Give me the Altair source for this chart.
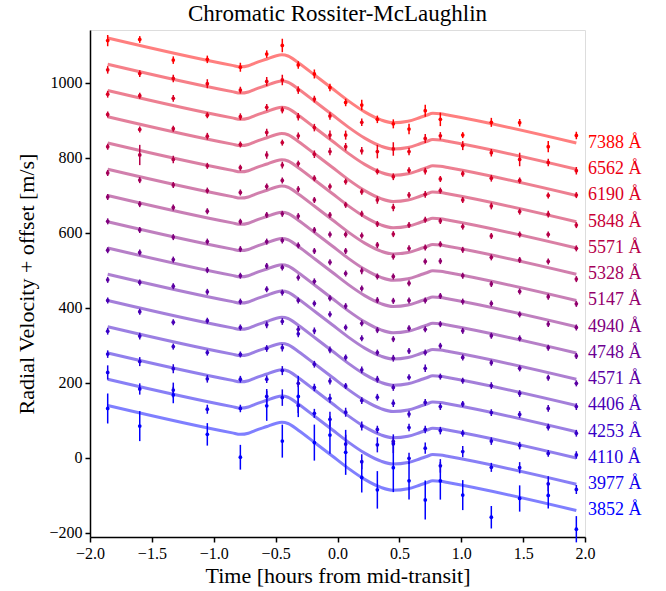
import altair as alt
import pandas as pd

# observation times (hours from mid-transit)
times = [-1.857, -1.598, -1.327, -1.052, -0.785, -0.572, -0.446, -0.317, -0.187, -0.061, 0.066,
         0.196, 0.322, 0.451, 0.578, 0.709, 0.831, 1.012, 1.243, 1.472, 1.703, 1.930]

wavelengths = [3852, 3977, 4110, 4253, 4406, 4571, 4748, 4940, 5147, 5328, 5571, 5848, 6190, 6562, 7388]
colors = ["#0000ff", "#1200ed", "#2400db", "#3700c8", "#4900b6", "#5b00a4", "#6d0092", "#80007f",
          "#92006d", "#a4005b", "#b60049", "#c80037", "#db0024", "#ed0012", "#ff0000"]
offsets = [0, 70, 140, 210, 280, 350, 420, 490, 560, 630, 700, 770, 840, 910, 980]

# model curve (no offset)
model_t = [-1.857, -0.85, -0.785, -0.72, -0.667, -0.57, -0.50, -0.45, -0.40, -0.317, -0.18, -0.045,
           0.085, 0.22, 0.356, 0.45, 0.57, 0.667, 0.72, 0.77, 0.83, 0.90, 1.93]
model_rv = [140, 67, 63, 66, 73, 84, 92, 95, 92, 74, 40, 6,
            -27, -57, -79, -86, -82, -72, -66, -61, -62, -66, -140]

rv_3852 = [132, 85, 168, 63, 2, 139, 45, 164, 41, 61, 15, -52, -85, -26, -61, -112, -61, -99, -158, -108, -100, -190]
rv_3977 = [228, 184, 181, 130, 132, 164, 161, 140, 119, 103, 37, -10, 35, 38, -1, 26, -21, 17, -25, -26, -69, -84]
rv_4110 = [277, 257, 238, 211, 210, 210, 233, 199, 188, 159, 122, 85, 76, 44, 81, 76, 73, 66, 45, 33, 12, 8]
rv_4253 = [338, 325, 297, 281, 276, 292, 294, 331, 250, 205, 192, 153, 162, 146, 117, 148, 137, 144, 121, 116, 82, 66]
rv_4406 = [420, 390, 362, 366, 348, 355, 364, 343, 339, 288, 268, 235, 210, 188, 215, 239, 217, 206, 193, 172, 132, 137]
rv_4571 = [475, 468, 458, 443, 417, 450, 441, 420, 412, 383, 348, 319, 281, 266, 285, 281, 299, 268, 254, 239, 214, 199]
rv_4748 = [554, 548, 529, 501, 486, 512, 508, 481, 471, 426, 405, 359, 341, 317, 346, 343, 357, 339, 326, 319, 294, 272]
rv_4940 = [631, 608, 589, 577, 557, 577, 580, 567, 552, 522, 492, 452, 421, 419, 420, 420, 432, 417, 412, 383, 357, 348]
rv_5147 = [696, 677, 668, 658, 630, 648, 651, 645, 608, 596, 552, 499, 484, 484, 466, 524, 525, 486, 464, 444, 430, 411]
rv_5328 = [760, 741, 728, 713, 708, 724, 740, 717, 688, 648, 596, 593, 568, 537, 559, 561, 570, 555, 535, 528, 524, 477]
rv_5571 = [830, 808, 796, 779, 774, 808, 781, 785, 746, 724, 675, 651, 624, 597, 621, 635, 632, 617, 592, 596, 596, 559]
rv_5848 = [916, 876, 878, 858, 836, 868, 841, 859, 810, 817, 737, 710, 688, 668, 701, 703, 713, 688, 672, 657, 650, 621]
rv_6190 = [970, 966, 959, 914, 910, 935, 928, 910, 881, 861, 830, 819, 764, 750, 767, 765, 744, 758, 746, 740, 700, 701]
rv_6562 = [1035, 1025, 1012, 998, 981, 1004, 1008, 981, 957, 912, 861, 895, 817, 824, 817, 852, 859, 833, 814, 796, 788, 766]
rv_7388 = [1113, 1116, 1061, 1063, 1042, 1077, 1100, 1048, 1024, 988, 948, 941, 903, 891, 877, 926, 903, 861, 895, 894, 830, 860]

err_3852 = [40, 40, 22, 30, 33, 40, 44, 55, 48, 50, 60, 40, 50, 65, 50, 52, 50, 40, 30, 35, 35, 35]
err_3977 = [19, 15, 20, 12, 10, 20, 22, 20, 12, 20, 25, 20, 20, 25, 15, 15, 18, 15, 12, 15, 20, 12]
err_4110 = [10, 12, 12, 10, 9, 10, 12, 10, 10, 12, 12, 12, 10, 12, 10, 10, 10, 9, 10, 10, 9, 10]
err_4253 = [9, 9, 8, 8, 8, 9, 10, 9, 9, 9, 8, 9, 9, 10, 9, 9, 9, 8, 9, 9, 9, 9]
err_4406 = [8, 8, 8, 8, 8, 9, 9, 9, 9, 9, 8, 9, 9, 9, 8, 10, 8, 8, 9, 9, 9, 9]
err_4571 = [8, 8, 8, 8, 8, 8, 8, 8, 8, 8, 8, 8, 8, 9, 8, 8, 8, 8, 8, 8, 8, 8]
err_4748 = [8, 8, 8, 8, 8, 8, 8, 8, 8, 8, 8, 8, 8, 8, 8, 8, 8, 8, 8, 8, 8, 8]
err_4940 = [8, 8, 8, 8, 8, 8, 8, 8, 8, 8, 8, 8, 8, 8, 8, 8, 8, 8, 8, 8, 8, 8]
err_5147 = [8, 8, 8, 8, 8, 8, 8, 8, 8, 8, 8, 9, 8, 8, 8, 8, 8, 8, 8, 8, 8, 8]
err_5328 = [8, 8, 8, 8, 8, 8, 8, 8, 8, 8, 8, 8, 8, 8, 8, 8, 8, 8, 8, 8, 8, 8]
err_5571 = [8, 27, 10, 8, 8, 10, 9, 8, 8, 8, 8, 8, 8, 8, 8, 8, 8, 8, 8, 8, 8, 8]
err_5848 = [8, 8, 8, 9, 8, 10, 8, 9, 10, 10, 8, 8, 10, 10, 8, 9, 8, 8, 9, 8, 9, 8]
err_6190 = [9, 8, 9, 8, 9, 9, 9, 10, 10, 12, 10, 10, 8, 9, 8, 9, 8, 8, 9, 8, 8, 8]
err_6562 = [10, 9, 10, 12, 9, 12, 14, 10, 9, 10, 12, 10, 18, 18, 10, 12, 10, 12, 10, 18, 10, 10]
err_7388 = [15, 9, 10, 10, 12, 10, 18, 10, 12, 10, 10, 14, 10, 12, 14, 16, 18, 8, 12, 10, 15, 10]

rv_lists = [rv_3852, rv_3977, rv_4110, rv_4253, rv_4406, rv_4571, rv_4748, rv_4940,
            rv_5147, rv_5328, rv_5571, rv_5848, rv_6190, rv_6562, rv_7388]
err_lists = [err_3852, err_3977, err_4110, err_4253, err_4406, err_4571, err_4748, err_4940,
             err_5147, err_5328, err_5571, err_5848, err_6190, err_6562, err_7388]

labels = [f"{w} Å" for w in wavelengths]

pts, lines, labs = [], [], []
for k, lab in enumerate(labels):
    for t, v, e in zip(times, rv_lists[k], err_lists[k]):
        pts.append({"t": t, "rv": v, "lo": v - e, "hi": v + e, "ch": lab})
    for t, v in zip(model_t, model_rv):
        lines.append({"t": t, "rv": v + offsets[k], "ch": lab})
    labs.append({"t": 2.0, "rv": model_rv[-1] + offsets[k], "ch": lab})

pts = pd.DataFrame(pts)
lines = pd.DataFrame(lines)
labs = pd.DataFrame(labs)

FONT = "Liberation Serif"
color = alt.Color("ch:N", scale=alt.Scale(domain=labels, range=colors), legend=None)
xs = alt.Scale(domain=[-2, 2], nice=False, zero=False)
ys = alt.Scale(domain=[-210.7, 1141.3], nice=False, zero=False)

xax = alt.X("t:Q", scale=xs, axis=alt.Axis(
    title="Time [hours from mid-transit]", values=[-2, -1.5, -1, -0.5, 0, 0.5, 1, 1.5, 2],
    format=".1f", grid=False, tickSize=5, tickColor="black", tickWidth=1.5,
    domainColor="black", domainWidth=1.5, labelFont=FONT, labelFontSize=16, labelColor="black",
    titleFont=FONT, titleFontSize=22, titleFontWeight="normal", titleColor="black",
    labelPadding=3, titlePadding=4, labelFlush=False))
yax = alt.Y("rv:Q", scale=ys, axis=alt.Axis(
    title="Radial Velocity + offset [m/s]", values=[-200, 0, 200, 400, 600, 800, 1000],
    format="d", grid=False, tickSize=5, tickColor="black", tickWidth=1.5,
    domainColor="black", domainWidth=1.5, labelFont=FONT, labelFontSize=16, labelColor="black",
    titleFont=FONT, titleFontSize=22, titleFontWeight="normal", titleColor="black",
    labelPadding=3, titlePadding=10, labelFlush=False))

line_layer = alt.Chart(lines).mark_line(interpolate="monotone", strokeWidth=3, opacity=0.5).encode(
    x=xax, y=yax, color=color, detail="ch:N")
err_layer = alt.Chart(pts).mark_rule(strokeWidth=1.5).encode(
    x="t:Q", y="lo:Q", y2="hi:Q", color=color)
pt_layer = alt.Chart(pts).mark_circle(size=14, opacity=1).encode(
    x="t:Q", y="rv:Q", color=color)
lab_layer = alt.Chart(labs).mark_text(align="left", baseline="middle", dx=3, font=FONT, fontSize=18).encode(
    x="t:Q", y="rv:Q", text="ch:N", color=color)

chart = alt.layer(line_layer, err_layer, pt_layer, lab_layer).properties(
    width=495, height=507,
    title=alt.TitleParams("Chromatic Rossiter-McLaughlin", font=FONT, fontSize=23,
                          fontWeight="normal", color="black", anchor="middle", offset=4),
    autosize=alt.AutoSizeParams(type="none"),
    padding={"left": 90, "top": 30, "right": 81, "bottom": 54},
).configure_view(stroke="black", strokeWidth=1.5).configure(background="white")

chart.save("out.html", embed_options={"renderer": "svg", "actions": False})
